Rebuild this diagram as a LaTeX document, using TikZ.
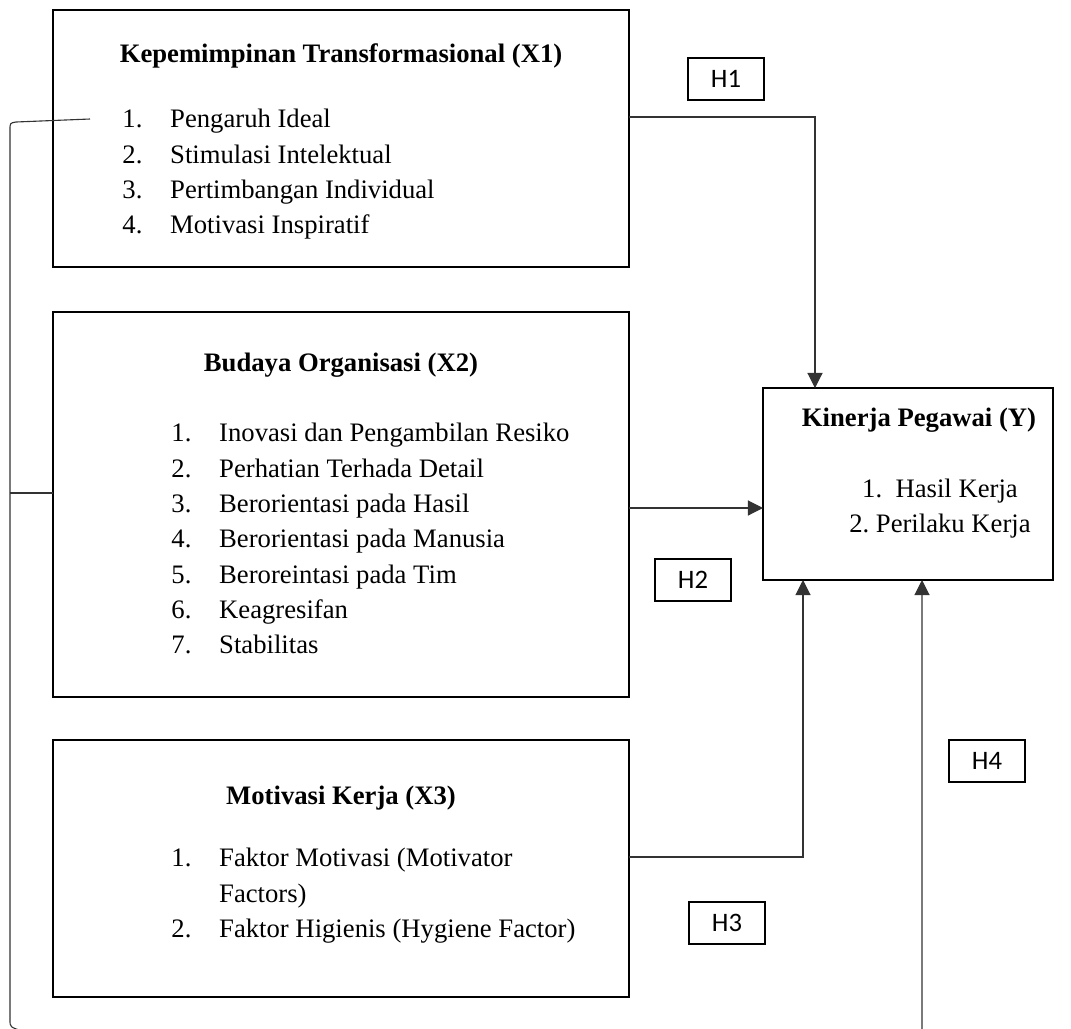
\documentclass[tikz,border=0pt]{standalone}
\usepackage{fontspec}
\setmainfont{Liberation Serif}
\newfontfamily\hfont{Carlito}
\usetikzlibrary{arrows.meta}

\begin{document}
\begin{tikzpicture}[
    x=0.45pt, y=-0.45pt,
    varbox/.style={
        draw,
        line width=0.9pt,
        inner sep=0pt,
        outer sep=0pt,
        anchor=north west,
        minimum width=259.2pt
    },
    hyp/.style={
        draw,
        line width=0.7pt,
        inner sep=0pt,
        outer sep=0pt,
        anchor=north west,
        minimum width=34.2pt,
        minimum height=18.9pt,
        font=\hfont\fontsize{12}{14}\selectfont
    },
    heading/.style={anchor=base,font=\bfseries\fontsize{12}{15.9}\selectfont},
    items/.style={anchor=north west,inner sep=0pt,align=left,font=\fontsize{12}{15.9}\selectfont},
    link/.style={draw=black!80,line width=0.5pt},
    flow/.style={link,-{Triangle[length=6.8pt,width=6.8pt]}}
]
\path[use as bounding box] (0,0) rectangle (1071,1029);
\clip (0,0) rectangle (1071,1029);

\newcommand{\itm}[2]{\makebox[21.5pt][l]{#1}#2}

\node[varbox,minimum height=115.65pt] (kepemimpinan) at (53,10) {};
\node[heading] (kepemimpinantitle) at (341,62) {Kepemimpinan Transformasional (X1)};
\node[items] (kepemimpinanlist) at (122,109) {
    \itm{1.}{Pengaruh Ideal}\\
    \itm{2.}{Stimulasi Intelektual}\\
    \itm{3.}{Pertimbangan Individual}\\
    \itm{4.}{Motivasi Inspiratif}
};

\node[varbox,minimum height=173.25pt] (budaya) at (53,312) {};
\node[heading] (budayatitle) at (341,371) {Budaya Organisasi (X2)};
\node[items] (budayalist) at (171,423) {
    \itm{1.}{Inovasi dan Pengambilan Resiko}\\
    \itm{2.}{Perhatian Terhada Detail}\\
    \itm{3.}{Berorientasi pada Hasil}\\
    \itm{4.}{Berorientasi pada Manusia}\\
    \itm{5.}{Beroreintasi pada Tim}\\
    \itm{6.}{Keagresifan}\\
    \itm{7.}{Stabilitas}
};

\node[varbox,minimum height=115.65pt] (motivasi) at (53,740) {};
\node[heading] (motivasititle) at (341,804) {Motivasi Kerja (X3)};
\node[items] (motivasilist) at (171,848) {
    \itm{1.}{Faktor Motivasi (Motivator}\\
    \itm{}{Factors)}\\
    \itm{2.}{Faktor Higienis (Hygiene Factor)}
};

\node[varbox,minimum width=130.5pt,minimum height=86.4pt] (kinerja) at (763,388) {};
\node[heading] (kinerjatitle) at (919,426) {Kinerja Pegawai (Y)};
\node[anchor=north,inner sep=0pt,align=center,font=\fontsize{12}{15.75}\selectfont] (kinerjalist) at (940,479) {
    1.~~Hasil Kerja\\
    2.~Perilaku Kerja
};

\node[hyp] (h1) at (688,58) {H1};
\node[hyp] (h2) at (655,559) {H2};
\node[hyp] (h3) at (689,902) {H3};
\node[hyp] (h4) at (949,740) {H4};

\coordinate (k1) at (815,117);
\coordinate (k2) at (700,508);
\coordinate (k3) at (803,857);
\coordinate (k4) at (922,1031);
\coordinate (b1) at (90,119);
\coordinate (b2) at (10,493);

\draw[flow] (kepemimpinan.east |- k1) -- (k1) -- (k1 |- kinerja.north);
\draw[flow] (budaya.east |- k2) -- (kinerja.west |- k2);
\draw[flow] (motivasi.east |- k3) -- (k3) -- (k3 |- kinerja.south);
\draw[flow] (b1) -- (16,122) .. controls (10,123) .. (10,130) -- (10,1020)
    .. controls (10,1027) .. (22,1031) -- (k4) -- (k4 |- kinerja.south);
\draw[link] (b2) -- (b2 -| budaya.west);
\end{tikzpicture}
\end{document}
